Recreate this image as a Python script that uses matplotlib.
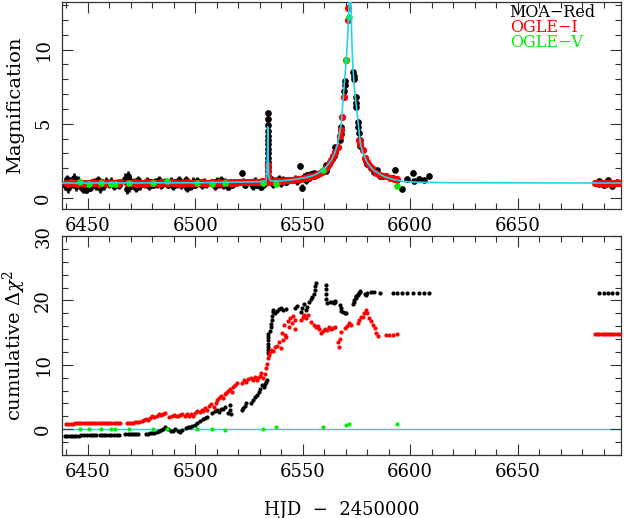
import matplotlib
matplotlib.use("Agg")
import matplotlib.pyplot as plt
from matplotlib.ticker import MultipleLocator

plt.rcParams["font.family"] = "DejaVu Serif"
plt.rcParams["mathtext.fontset"] = "dejavuserif"

# ---- top panel: magnification ----
moa_t = [6439.5, 6440.3, 6441.0, 6441.8, 6442.6, 6443.5, 6444.4, 6445.2,
         6446.8, 6447.6, 6448.5, 6449.3, 6450.2, 6451.0,
         6453.0, 6454.0, 6454.8, 6455.7, 6456.5, 6457.4, 6458.3,
         6460.0, 6461.0, 6462.0, 6463.5, 6464.5,
         6467.5, 6468.0, 6468.6, 6469.2, 6469.8, 6470.6, 6471.5, 6472.4, 6473.3, 6474.2,
         6476.8, 6477.6, 6478.5, 6479.4, 6480.3, 6481.2, 6482.1, 6483.0, 6484.0, 6485.0, 6486.0,
         6487.5, 6488.5, 6489.5, 6490.5, 6491.5, 6492.5, 6493.5,
         6495.5, 6496.3, 6497.2, 6498.1, 6499.0,
         6500.0, 6501.0, 6502.0, 6503.0, 6504.0, 6505.0,
         6508.0, 6509.0, 6510.0, 6511.0, 6512.0, 6513.0, 6514.0, 6515.0, 6516.0, 6517.0,
         6521.6, 6522.4, 6523.2,
         6525.8, 6526.8, 6527.8, 6528.8, 6529.6, 6530.4, 6531.2, 6532.0, 6532.8,
         6533.62, 6533.64, 6533.66, 6533.68, 6533.70, 6533.72, 6533.74, 6533.76,
         6533.78, 6533.80, 6533.82, 6533.84, 6533.86, 6533.88, 6533.90,
         6535.2, 6536.0, 6537.0, 6538.0, 6539.0, 6540.0, 6541.0, 6542.0,
         6546.5, 6547.5, 6548.7, 6549.5, 6550.5, 6551.3, 6552.0, 6553.0, 6553.8, 6554.5,
         6555.2, 6556.0,
         6560.7, 6560.8, 6560.9, 6561.0, 6561.1,
         6562.8, 6563.8, 6564.7, 6564.8, 6564.9,
         6567.4, 6567.6, 6567.8, 6569.3, 6569.4, 6569.5, 6569.6,
         6573.6, 6573.7, 6573.8, 6574.7, 6574.8, 6574.9, 6575.8, 6575.9, 6576.3, 6576.5, 6576.6,
         6578.9, 6579.5, 6580.0, 6581.8, 6583.2, 6584.5, 6586.0, 6587.5,
         6592.0, 6592.7, 6594.0, 6596.0, 6598.5,
         6601.5, 6601.8, 6604.0, 6606.5, 6608.5,
         6688.0, 6690.0, 6692.0, 6694.0, 6696.0]
moa_a = [0.85, 1.25, 0.70, 1.10, 0.95, 1.35, 0.80, 1.15,
         0.75, 0.60, 0.90, 0.55, 0.85, 0.70,
         1.05, 0.80, 1.20, 0.65, 1.00, 0.85, 1.10,
         0.95, 1.10, 0.80, 1.00, 0.90,
         1.30, 0.60, 1.45, 0.75, 1.15, 0.90, 1.05, 0.70, 1.20, 0.85,
         0.95, 1.15, 0.80, 1.05, 0.90, 1.10, 0.95, 1.20, 0.85, 1.00, 1.10,
         0.90, 1.15, 0.80, 1.05, 0.95, 1.20, 0.85,
         1.20, 0.70, 1.00, 0.80, 1.10,
         0.90, 1.15, 1.00, 0.85, 1.10, 0.95,
         1.05, 0.80, 1.15, 0.95, 1.20, 0.85, 1.10, 0.75, 1.00, 0.90,
         1.70, 1.10, 0.90,
         1.00, 0.80, 1.15, 0.90, 1.05, 0.75, 1.10, 0.95, 1.15,
         1.2, 1.5, 1.8, 2.1, 2.4, 2.7, 3.0, 3.3,
         3.6, 3.9, 4.2, 4.5, 4.9, 5.3, 5.7,
         1.25, 0.95, 1.15, 1.05, 1.30, 1.00, 1.20, 1.10,
         1.30, 1.15, 2.15, 0.70, 1.40, 1.20, 1.55, 1.35, 1.60, 1.45,
         1.65, 1.55,
         2.0, 1.8, 2.2, 1.9, 2.1,
         2.4, 2.6, 2.8, 3.1, 3.4,
         3.9, 4.3, 4.8, 6.8, 7.2, 7.6, 7.9,
         8.5, 8.2, 8.0, 6.8, 6.4, 6.1, 5.1, 4.8, 4.4, 3.9, 3.5,
         2.7, 2.5, 2.3, 2.0, 1.75, 1.85, 1.5, 1.45,
         1.35, 1.9, 1.2, 0.6, 1.25,
         1.7, 1.15, 1.3, 1.2, 1.5,
         1.15, 0.85, 1.2, 0.8, 1.05]
moa_e = [0.30, 0.30, 0.35, 0.30, 0.30, 0.30, 0.35, 0.30,
         0.25, 0.25, 0.30, 0.25, 0.30, 0.25,
         0.30, 0.30, 0.30, 0.30, 0.30, 0.30, 0.30,
         0.30, 0.30, 0.30, 0.30, 0.30,
         0.35, 0.35, 0.35, 0.35, 0.30, 0.30, 0.30, 0.30, 0.30, 0.30,
         0.25, 0.25, 0.25, 0.25, 0.25, 0.25, 0.25, 0.25, 0.25, 0.25, 0.25,
         0.25, 0.25, 0.25, 0.25, 0.25, 0.25, 0.25,
         0.30, 0.30, 0.30, 0.30, 0.30,
         0.25, 0.25, 0.25, 0.25, 0.25, 0.25,
         0.25, 0.25, 0.25, 0.25, 0.25, 0.25, 0.25, 0.25, 0.25, 0.25,
         0.20, 0.25, 0.25,
         0.25, 0.25, 0.25, 0.25, 0.25, 0.25, 0.25, 0.25, 0.25,
         0.15, 0.15, 0.15, 0.15, 0.15, 0.15, 0.15, 0.15,
         0.15, 0.15, 0.15, 0.15, 0.15, 0.15, 0.15,
         0.25, 0.25, 0.25, 0.25, 0.25, 0.25, 0.25, 0.25,
         0.25, 0.25, 0.20, 0.25, 0.25, 0.25, 0.20, 0.20, 0.20, 0.20,
         0.15, 0.15,
         0.15, 0.15, 0.15, 0.15, 0.15,
         0.12, 0.12, 0.12, 0.12, 0.12,
         0.10, 0.10, 0.10, 0.10, 0.10, 0.10, 0.10,
         0.10, 0.10, 0.10, 0.10, 0.10, 0.10, 0.10, 0.10, 0.10, 0.10, 0.10,
         0.12, 0.12, 0.12, 0.12, 0.12, 0.12, 0.12, 0.12,
         0.15, 0.15, 0.15, 0.15, 0.15,
         0.15, 0.15, 0.15, 0.15, 0.15,
         0.15, 0.15, 0.15, 0.15, 0.15]

ogi_t = [6440, 6441, 6442, 6443, 6444, 6445, 6446, 6447, 6448, 6449, 6450, 6451, 6452,
         6453, 6454, 6455, 6456, 6457, 6458, 6459, 6460, 6461, 6462, 6463, 6464, 6465,
         6468, 6469, 6470, 6471, 6472, 6473, 6474, 6475, 6476, 6477,
         6478, 6479, 6480, 6481, 6482, 6483, 6484, 6485, 6486, 6487,
         6488, 6489, 6490, 6491, 6492, 6493, 6494, 6495, 6496, 6497,
         6498, 6499, 6500, 6501, 6502, 6503, 6504, 6505, 6506, 6507,
         6508, 6509, 6510, 6511, 6512, 6513, 6514, 6515, 6516, 6517,
         6518, 6519, 6520, 6521, 6522, 6523, 6524, 6525, 6526, 6527,
         6528, 6529, 6530, 6531, 6532, 6533, 6534,
         6533.7, 6533.8, 6533.9,
         6535, 6536, 6537, 6538, 6539, 6540, 6541, 6542, 6543, 6544, 6545, 6546,
         6547, 6548, 6549, 6550, 6551, 6552, 6553, 6554, 6555, 6556, 6557, 6558,
         6559.0, 6560.0, 6561.0, 6562.2, 6563.3, 6564.0, 6565.0, 6566.3, 6567.3, 6567.7,
         6568.2, 6569.3, 6570.2, 6571.0, 6571.2, 6576.3, 6576.5, 6577.9, 6579.0, 6580.0,
         6581.0, 6582.0, 6584.0, 6586.0, 6588.5, 6590.5, 6592.5, 6594.0,
         6686, 6687, 6688, 6689, 6690, 6691, 6692, 6693, 6694, 6695, 6696, 6697]
ogi_a = [1.02, 0.96, 1.05, 0.98, 1.00, 0.94, 1.04, 0.99, 1.03, 0.95, 1.01, 0.97, 1.06,
         0.98, 1.00, 0.93, 1.04, 1.01, 0.97, 1.03, 0.99, 0.95, 1.02, 1.00, 0.96, 1.04,
         0.98, 1.03, 0.97, 1.01, 1.05, 0.96, 1.00, 1.02, 0.95, 1.04,
         0.99, 1.01, 0.97, 1.03, 1.00, 0.96, 1.05, 0.98, 1.02, 1.00,
         0.97, 1.04, 1.01, 0.99, 1.03, 0.96, 1.02, 1.00, 1.05, 0.98,
         1.01, 1.03, 0.97, 1.02, 1.00, 1.04, 0.98, 1.03, 1.01, 0.99,
         1.05, 1.00, 1.02, 1.04, 0.99, 1.03, 1.06, 1.01, 1.04, 1.02,
         1.05, 1.03, 1.07, 1.04, 1.06, 1.08, 1.05, 1.07, 1.09, 1.06,
         1.08, 1.10, 1.07, 1.11, 1.09, 1.12, 1.10,
         1.8, 2.2, 1.5,
         1.12, 1.10, 1.14, 1.12, 1.15, 1.17, 1.15, 1.19, 1.18, 1.21, 1.23, 1.22,
         1.26, 1.28, 1.30, 1.33, 1.35, 1.38, 1.42, 1.45, 1.50, 1.55, 1.62, 1.68,
         1.75, 1.85, 2.0, 2.3, 2.55, 2.8, 3.1, 3.4, 4.2, 4.6,
         5.45, 6.8, 9.3, 12.0, 12.8, 3.9, 3.6, 3.2, 2.7, 2.4,
         2.2, 2.0, 1.7, 1.55, 1.45, 1.35, 1.3, 1.25,
         0.97, 1.00, 0.95, 1.02, 0.98, 0.96, 1.01, 0.99, 0.94, 1.00, 0.97, 1.02]

ogv_t = [6446.3, 6450.5, 6456.3, 6461.0, 6462.5, 6469.0, 6480.2, 6487.0, 6501.0,
         6507.9, 6513.7, 6531.7, 6537.4, 6559.4, 6570.2, 6571.3, 6594.0]
ogv_a = [1.05, 0.92, 1.03, 0.95, 0.95, 1.00, 0.97, 1.11, 1.03,
         0.96, 1.03, 1.00, 0.94, 1.90, 9.30, 12.2, 0.80]

model_t = [6438, 6500, 6520, 6530, 6532.8, 6533.3, 6533.55, 6533.7, 6533.85, 6534.1,
           6534.6, 6535.5, 6540, 6545, 6550, 6553, 6555, 6557, 6559.4, 6561,
           6563.3, 6564.8, 6566.3, 6567.9, 6569.1, 6570.2, 6571.0, 6571.6, 6572.0, 6572.4,
           6572.8, 6573.3, 6574.2, 6575.3, 6576.8, 6578.0, 6580.2, 6583, 6588, 6592,
           6597, 6605, 6620, 6698]
model_a = [1.00, 1.02, 1.06, 1.09, 1.12, 1.6, 3.0, 4.8, 3.0, 1.6,
           1.2, 1.13, 1.15, 1.22, 1.33, 1.43, 1.52, 1.66, 1.88, 2.1,
           2.55, 3.0, 3.67, 5.0, 7.25, 9.26, 11.1, 13.2, 14.5, 13.2,
           10.8, 8.8, 7.1, 5.7, 3.67, 3.0, 2.33, 1.85, 1.43, 1.25,
           1.10, 1.05, 1.02, 1.00]

# ---- bottom panel: cumulative delta chi^2 ----
moa_ct = [6439.5, 6440.5, 6441.5, 6442.5, 6443.5, 6444.5, 6446, 6447, 6448, 6449.5,
          6451, 6452, 6453, 6454, 6455.5, 6456.5, 6457.5, 6458.5,
          6460, 6461, 6462, 6463.5, 6464.5,
          6467.5, 6468.5, 6469.5, 6470.5, 6471.5, 6472.5, 6473.5,
          6477, 6478, 6479, 6480, 6481,
          6482, 6483, 6484, 6485, 6486,
          6487.5, 6488.5, 6489.5, 6490.5, 6492, 6493, 6494,
          6495.5, 6496.5, 6497.5, 6498.5,
          6500, 6501, 6502, 6503.5, 6504.5, 6505.5,
          6508, 6509, 6510, 6511, 6512,
          6513, 6514, 6515, 6516, 6516.3, 6516.6,
          6521.5, 6522.3, 6523, 6523.8,
          6525.8, 6526.8, 6527.8,
          6528.8, 6529.5, 6530.2, 6530.9,
          6531.8, 6532.5, 6533.0, 6533.4,
          6533.6, 6533.65, 6533.7, 6533.75, 6533.8, 6533.85, 6533.9,
          6534.8, 6535.0, 6535.2, 6535.5, 6535.8, 6536.1, 6536.3,
          6537, 6538, 6539, 6540, 6541, 6542,
          6546.5, 6547.5,
          6549, 6549.7, 6550.5, 6551.3, 6552, 6553,
          6553.7, 6554.3, 6555, 6555.5, 6555.9, 6556.2,
          6560.7, 6560.8, 6560.9, 6561.0, 6561.1,
          6562.8, 6563.8, 6564.7, 6564.8, 6564.9,
          6567.4, 6567.6, 6567.8, 6568.5, 6569.5, 6569.9,
          6573.6, 6573.7, 6573.8, 6574.7, 6574.8, 6574.9, 6575.8, 6575.9, 6576.3, 6576.5, 6576.6,
          6578.9, 6579.5, 6580.0,
          6581.8, 6583.2, 6586,
          6592, 6594, 6596, 6598.5,
          6601.5, 6604, 6606.5, 6608.5,
          6688, 6690, 6692, 6694, 6696]
moa_chi = [-1.05, -1.05, -1.02, -1.0, -1.0, -0.98, -0.98, -0.97, -0.97, -0.95,
           -0.95, -0.93, -0.92, -0.92, -0.9, -0.9, -0.88, -0.88,
           -0.87, -0.86, -0.85, -0.83, -0.82,
           -0.8, -0.78, -0.75, -0.72, -0.7, -0.72, -0.7,
           -0.7, -0.68, -0.66, -0.63, -0.6,
           -0.5, -0.3, -0.1, 0.1, 0.3,
           0.0, -0.2, -0.3, 0.0, -0.2, -0.4, -0.1,
           0.2, 0.4, 0.3, 0.5,
           0.7, 0.9, 1.3, 1.6, 1.8, 1.9,
           2.5, 2.8, 3.0, 2.7, 3.2,
           3.2, 3.5, 2.5, 3.7, 3.0, 2.3,
           3.0, 3.3, 3.6, 4.0,
           4.0, 4.5, 5.0,
           5.3, 5.8, 6.3, 6.8,
           6.5, 7.0, 7.4, 7.6,
           11.8, 12.3, 12.8, 13.3, 13.8, 14.3, 14.8,
           15.2, 15.8, 16.4, 17.0, 17.6, 18.2, 18.5,
           18.0, 18.3, 18.6, 18.8, 18.5, 18.7,
           18.8, 19.2,
           18.2, 18.8, 19.5, 18.5, 19.0, 19.8,
           20.2, 20.6, 21.0, 21.6, 22.2, 22.7,
           22.4, 21.8, 21.0, 20.2, 19.6,
           19.7, 19.8, 19.6, 19.9, 19.7,
           19.3, 18.8, 18.3, 18.2, 18.0, 18.1,
           19.5, 19.8, 20.0, 20.3, 20.5, 20.7, 20.8, 21.0, 21.1, 21.3, 21.4,
           21.0, 20.8, 21.2,
           21.3, 21.3, 21.1,
           21.1, 21.1, 21.1, 21.1,
           21.1, 21.1, 21.1, 21.1,
           21.1, 21.1, 21.1, 21.1, 21.1]

ogi_ct = [6440, 6441, 6442, 6443, 6444, 6445, 6446, 6447, 6448, 6449, 6450, 6451, 6452,
          6453, 6454, 6455, 6456, 6457, 6458, 6459, 6460, 6461, 6462, 6463, 6464, 6465,
          6468, 6469, 6470, 6471, 6472, 6473, 6474,
          6475, 6476, 6477, 6478, 6479, 6480, 6481, 6482, 6483, 6484, 6485, 6486,
          6488, 6489, 6490, 6491, 6492, 6493, 6494, 6495, 6496,
          6497, 6498, 6499, 6500, 6501, 6502, 6503,
          6503.5, 6504.5, 6505.5, 6506.5, 6507.5, 6508.5, 6509.5,
          6510, 6511, 6512, 6513, 6514,
          6514.5, 6515.3, 6516.1, 6516.9, 6517.7, 6518.5, 6519.3,
          6521.6, 6522.6, 6523.7, 6524.7, 6525.8, 6526.9, 6528.0,
          6528.7, 6529.4, 6530.1, 6530.8, 6531.5, 6532.2, 6532.9, 6533.3,
          6533.6, 6534.1, 6534.7, 6535.3,
          6536, 6537, 6538, 6539, 6540, 6541, 6542,
          6540.5, 6541.2, 6541.8, 6543.0, 6543.5, 6544.2, 6545.0, 6545.5, 6546.2, 6546.5,
          6549.0, 6549.9, 6550.8, 6551.6, 6552.5,
          6554, 6555, 6556, 6557,
          6557.5, 6558.4, 6559.3, 6560.3, 6561.2, 6562.1, 6563.0, 6564.0, 6565.0,
          6566.3, 6566.8, 6567.2, 6567.7,
          6569.6, 6570.5, 6571.4, 6572.3,
          6575.6, 6576.3, 6577.0,
          6578.0, 6578.7, 6579.3, 6580.0,
          6581.0, 6581.8, 6582.5,
          6583.4, 6584.1, 6584.8,
          6588.5, 6590.3, 6592.2, 6594.0,
          6686, 6687, 6688, 6689, 6690, 6691, 6692, 6693, 6694, 6695, 6696, 6697]
ogi_chi = [0.88, 0.88, 0.89, 0.89, 0.90, 0.90, 0.90, 0.91, 0.91, 0.92, 0.92, 0.93, 0.93,
           0.93, 0.94, 0.94, 0.95, 0.95, 0.95, 0.96, 0.96, 0.96, 0.97, 0.97, 0.97, 0.98,
           0.90, 0.92, 1.00, 1.02, 1.10, 1.12, 1.20,
           1.3, 1.5, 1.6, 1.5, 1.8, 2.0, 1.9, 2.1, 2.3, 2.2, 2.4, 2.5,
           1.9, 2.0, 2.2, 2.0, 2.1, 2.2, 2.3, 2.1, 2.4,
           2.0, 2.3, 2.1, 2.5, 2.8, 2.6, 3.0,
           2.8, 3.3, 3.0, 3.6, 3.9, 3.5, 4.0,
           4.5, 4.8, 5.2, 4.9, 5.5,
           5.6, 5.9, 6.2, 5.8, 6.5, 6.9, 7.2,
           7.2, 7.6, 7.4, 7.8, 8.0, 7.7, 8.1,
           7.6, 7.9, 8.3, 8.8, 7.9, 8.5, 9.5, 10.2,
           11.0, 11.5, 12.0, 12.3,
           12.2, 12.8, 13.0, 13.5, 12.6, 13.8, 14.3,
           15.0, 16.2, 14.6, 16.8, 15.8, 17.2, 16.5, 17.6, 16.9, 15.6,
           17.0, 17.5, 17.8, 17.3, 17.7,
           16.6, 16.2, 15.8, 16.0,
           15.5, 14.9, 15.3, 15.6, 15.4, 15.8, 15.5, 15.7, 15.9,
           13.5, 12.8, 14.0, 15.1,
           15.7, 16.0, 16.5, 16.2,
           16.5, 17.0, 17.4,
           17.4, 18.0, 18.5, 18.0,
           17.3, 16.8, 16.2,
           15.7, 15.0, 14.5,
           14.6, 14.7, 14.7, 14.8,
           14.8, 14.8, 14.8, 14.8, 14.8, 14.8, 14.8, 14.8, 14.8, 14.8, 14.8, 14.8]

ogv_chi = [0.0, 0.0, 0.0, 0.0, 0.02, 0.0, 0.02, 0.0, 0.0,
           0.03, -0.1, 0.05, 0.4, 0.3, 0.65, 0.8, 0.8]

labels = ["MOA\u2212Red", "OGLE\u2212I", "OGLE\u2212V"]
colors = ["black", "#ff0000", "#00ee00"]
model_color = "#22d4ee"

fig = plt.figure(figsize=(6.24, 5.18), dpi=100)
ax1 = fig.add_axes([0.0994, 0.5965, 0.8956, 0.3995])
ax2 = fig.add_axes([0.0994, 0.1216, 0.8956, 0.4228])

ax1.errorbar(moa_t, moa_a, yerr=moa_e, fmt="o", color=colors[0], ms=3.8,
             elinewidth=1.8, capsize=0, zorder=2)
ax1.plot(ogi_t, ogi_a, "o", color=colors[1], ms=5.2, mec="none", zorder=3)
ax1.plot(ogv_t, ogv_a, "o", color=colors[2], ms=4.8, mec="none", zorder=4)
ax1.plot(model_t, model_a, "-", color=model_color, lw=1.2, zorder=5)

ax2.plot(moa_ct, moa_chi, "o", color=colors[0], ms=3.0, mec="none", zorder=2)
ax2.plot(ogi_ct, ogi_chi, "o", color=colors[1], ms=3.0, mec="none", zorder=3)
ax2.plot(ogv_t, ogv_chi, "o", color=colors[2], ms=3.0, mec="none", zorder=4)
ax2.axhline(0, color=model_color, lw=1.0, zorder=1)

for i, (lab, c) in enumerate(zip(labels, colors)):
    ax1.text(0.801, 0.952 - i * 0.074, lab, color=c, fontsize=11.5,
             transform=ax1.transAxes, ha="left", va="center")

ax1.set_xlim(6438, 6698)
ax1.set_ylim(-0.75, 13.2)
ax2.set_xlim(6438, 6698)
ax2.set_ylim(-4, 30)

ax1.yaxis.set_major_locator(MultipleLocator(5))
ax1.yaxis.set_minor_locator(MultipleLocator(1))
ax2.yaxis.set_major_locator(MultipleLocator(10))
ax2.yaxis.set_minor_locator(MultipleLocator(2))
for ax in (ax1, ax2):
    ax.xaxis.set_major_locator(MultipleLocator(50))
    ax.xaxis.set_minor_locator(MultipleLocator(10))
    ax.tick_params(which="both", direction="in", top=True, right=True,
                   labelsize=13, pad=6, width=0.8, color="#333333")
    ax.tick_params(which="major", length=8)
    ax.tick_params(which="minor", length=4)
    ax.tick_params(axis="y", labelrotation=90, pad=7)
    for lbl in ax.get_yticklabels():
        lbl.set_va("center")
    for s in ax.spines.values():
        s.set_linewidth(0.9)
        s.set_color("#333333")

ax1.set_ylabel("Magnification", fontsize=14)
ax2.set_ylabel(r"cumulative $\Delta\chi^2$", fontsize=14)
ax1.yaxis.set_label_coords(-0.068, 0.5)
ax2.yaxis.set_label_coords(-0.060, 0.5)
ax2.set_xlabel("HJD  \u2212  2450000", fontsize=13, labelpad=14)

fig.savefig("out.png", dpi=100)
